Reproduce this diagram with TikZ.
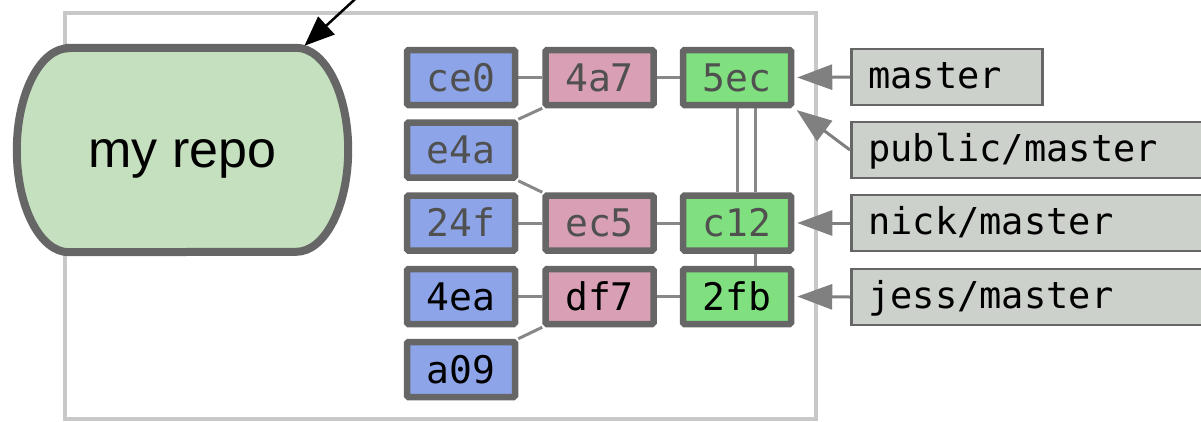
\documentclass[tikz,border=0pt]{standalone}
\usepackage{fontspec}
\newfontfamily\monof{DejaVu Sans Mono}
\newfontfamily\sansf{Liberation Sans}
\usetikzlibrary{arrows.meta}
\pgfdeclarelayer{bg}
\pgfsetlayers{bg,main}
\definecolor{strokec}{HTML}{666666}
\definecolor{framec}{HTML}{C8C8C8}
\definecolor{repofill}{HTML}{C5E0BF}
\definecolor{bluec}{HTML}{8DA5E8}
\definecolor{pinkc}{HTML}{D9A0B5}
\definecolor{greenc}{HTML}{80E080}
\definecolor{branchc}{HTML}{CDD1CB}
\definecolor{linkc}{HTML}{888888}
\definecolor{arrowc}{HTML}{808080}
\definecolor{dimtext}{HTML}{505050}
\begin{document}
\begin{tikzpicture}[x=1pt,y=-1pt,
  commit/.style={draw=strokec, line width=6.5pt, rounded corners=1.5pt,
    minimum width=108pt, minimum height=55pt, inner sep=0pt,
    text height=27pt, text depth=0pt, font=\monof\fontsize{38}{40}\selectfont},
  oldc/.style={text=dimtext},
  bluebox/.style={commit, fill=bluec},
  pinkbox/.style={commit, fill=pinkc},
  greenbox/.style={commit, fill=greenc},
  branch/.style={draw=strokec, fill=branchc, line width=2.5pt, anchor=west,
    inner xsep=17pt, inner ysep=0pt, minimum height=56pt,
    text height=27pt, text depth=5pt, align=left,
    font=\monof\fontsize{37}{40}\selectfont},
  link/.style={draw=linkc, line width=3pt},
  brarrow/.style={draw=arrowc, line width=3pt, -{Triangle[length=35pt,width=25pt]}, shorten >=3pt},
  repoarrow/.style={draw=black, line width=2.5pt, -{Triangle[length=30pt,width=24pt]}}
]
\useasboundingbox (0,0) rectangle (1201,421);
\clip (0,0) rectangle (1201,421);

% repo
\node[minimum width=331pt, minimum height=204pt, inner sep=0pt,
      text height=37pt, text depth=3pt,
      font=\sansf\fontsize{52}{60}\selectfont] (repo) at (182.5,150) {my repo};

% commits
\node[bluebox, oldc] (ce0) at (461,77.5) {ce0};
\node[pinkbox, oldc] (4a7) at (599.5,77.5) {4a7};
\node[greenbox, oldc] (5ec) at (737,77.5) {5ec};
\node[bluebox, oldc] (e4a) at (461,150) {e4a};
\node[bluebox, oldc] (24f) at (461,223) {24f};
\node[pinkbox, oldc] (ec5) at (599.5,223) {ec5};
\node[greenbox, oldc] (c12) at (737,223) {c12};
\node[bluebox] (4ea) at (461,296.5) {4ea};
\node[pinkbox] (df7) at (599.5,296.5) {df7};
\node[greenbox] (2fb) at (737,296.5) {2fb};
\node[bluebox] (a09) at (461,369.5) {a09};

% branches
\node[branch, text width=157pt] (master) at (850,77) {master};
\node[branch, text width=330pt] (public) at (850,150) {public/master};
\node[branch, text width=330pt] (nick) at (850,223) {nick/master};
\node[branch, text width=330pt] (jess) at (850,297) {jess/master};

\begin{pgfonlayer}{bg}
  \draw[framec, line width=4pt] (65,13) rectangle (816,419);
  \draw[draw=strokec, fill=repofill, line width=8pt]
    ([xshift=52pt]repo.north west) -- ([xshift=-52pt]repo.north east)
    arc[start angle=90, end angle=-90, x radius=52pt, y radius=102pt]
    -- ([xshift=52pt]repo.south west)
    arc[start angle=270, end angle=90, x radius=52pt, y radius=102pt] -- cycle;
  \draw[link] (ce0) -- (4a7);
  \draw[link] (4a7) -- (5ec);
  \draw[link] (e4a.north east) -- (4a7.south west);
  \draw[link] (e4a.south east) -- (ec5.north west);
  \draw[link] (24f) -- (ec5);
  \draw[link] (ec5) -- (c12);
  \draw[link] (5ec.south) -- (c12.north);
  \draw[link] ([xshift=18pt]5ec.south) -- ([xshift=18pt]c12.north);
  \draw[link] ([xshift=18pt]c12.south) -- ([xshift=18pt]2fb.north);
  \draw[link] (4ea) -- (df7);
  \draw[link] (df7) -- (2fb);
  \draw[link] (a09.north east) -- (df7.south west);
\end{pgfonlayer}

% arrows
\draw[brarrow] (master.west) -- (5ec.east);
\draw[brarrow] (public.west) -- (5ec.south east);
\draw[brarrow] (nick.west) -- (c12.east);
\draw[brarrow] (jess.west) -- (2fb.east);

\coordinate (src) at (365,-10);
\draw[repoarrow, shorten >=3pt] (src) -- ([xshift=-46pt]repo.north east);
\end{tikzpicture}
\end{document}
